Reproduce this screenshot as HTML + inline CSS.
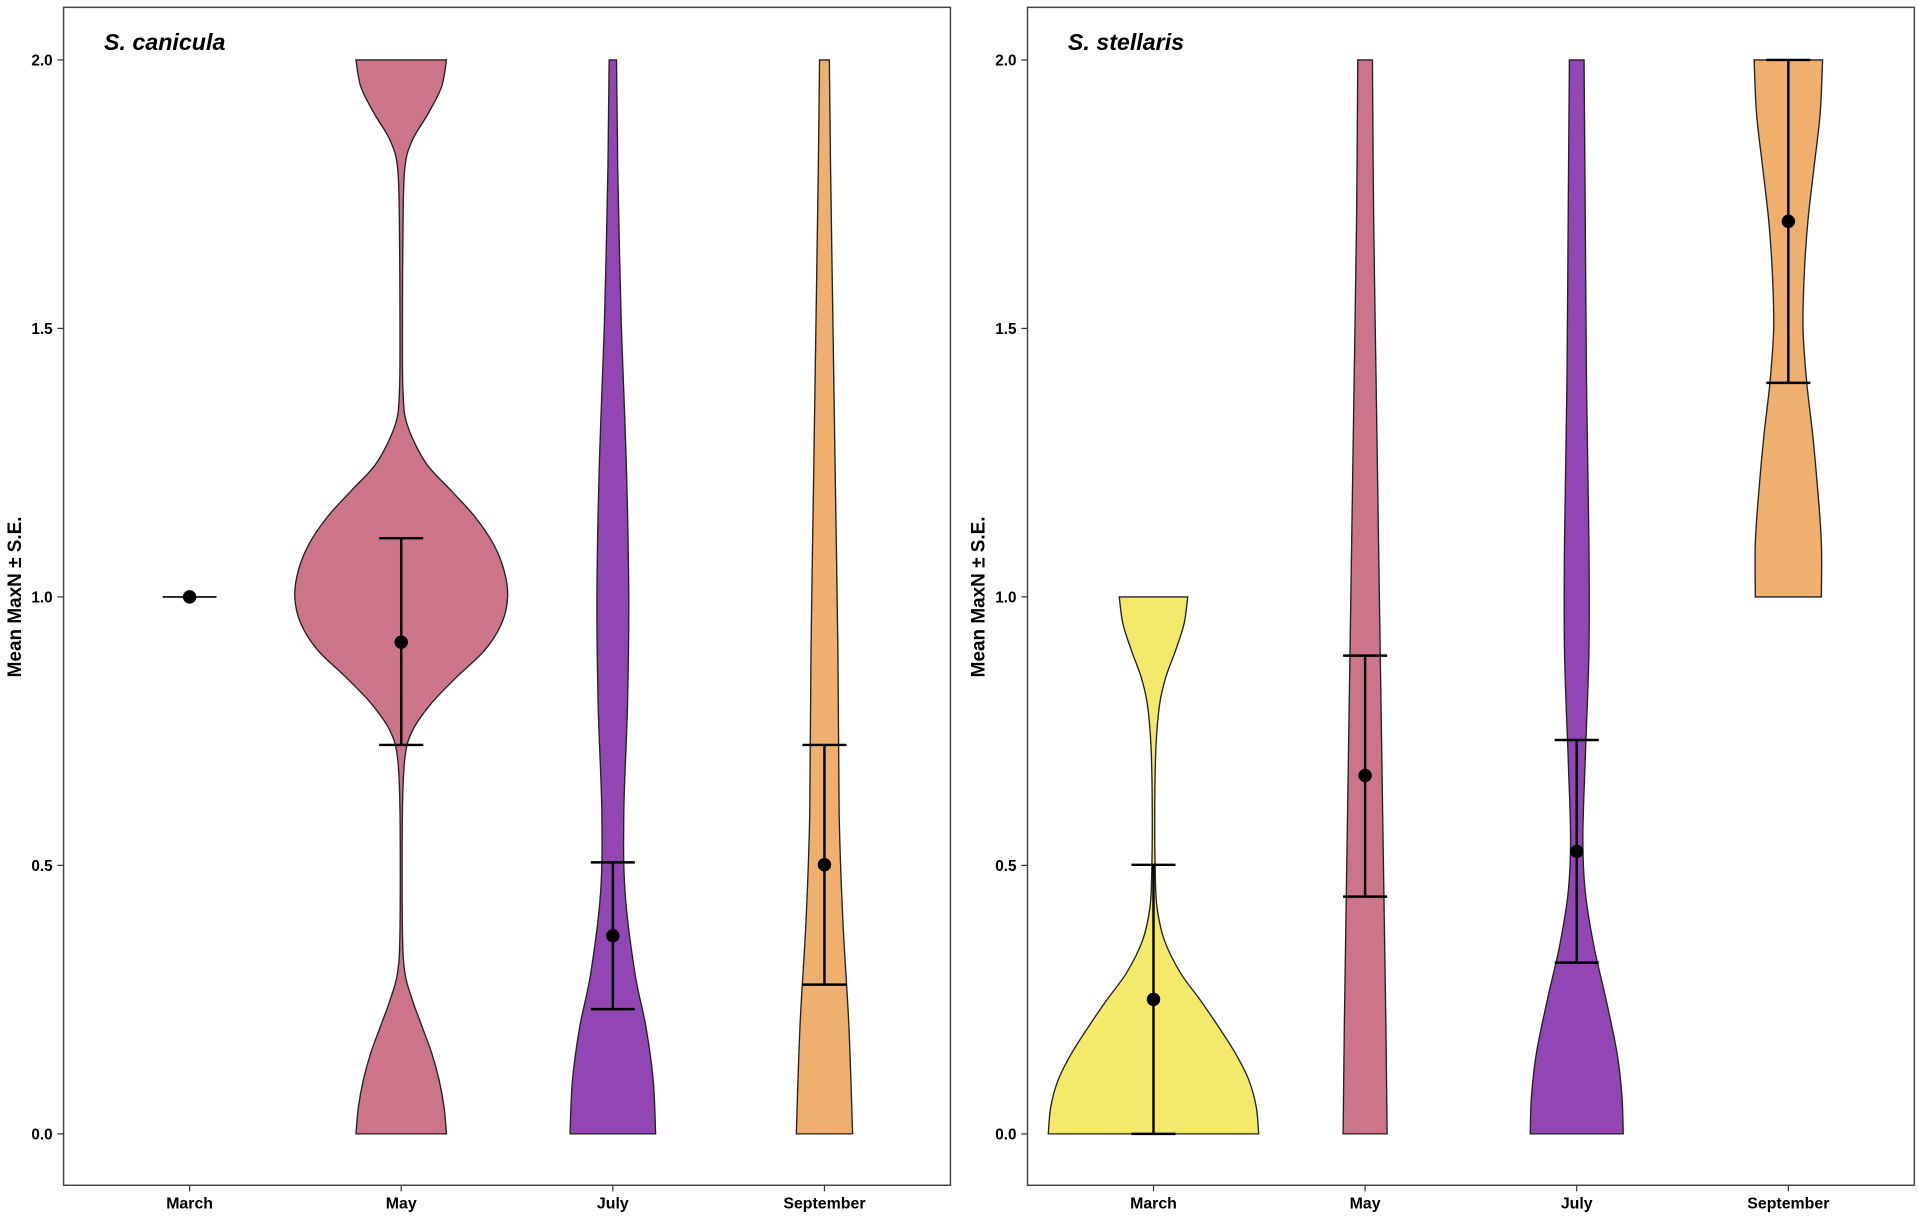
<!DOCTYPE html>
<html><head><meta charset="utf-8"><style>
html,body{margin:0;padding:0;background:#fff;}
svg{display:block;}
text{font-family:"Liberation Sans",sans-serif;font-weight:bold;fill:#000;}
</style></head><body>
<svg id="s" width="1918" height="1220" viewBox="0 0 1568 997.4" preserveAspectRatio="none" xmlns="http://www.w3.org/2000/svg"></svg>
<script>
const s=document.getElementById('s');
let h='';
const Y=v=>927-v*439;
function panel(x0,x1,title,cats){
  h+=`<rect x="${x0}" y="6" width="${x1-x0}" height="963" fill="#fff" stroke="#444" stroke-width="1.2"/>`;
  for(const v of [0,0.5,1,1.5,2]){
    h+=`<line x1="${x0-5}" x2="${x0}" y1="${Y(v)}" y2="${Y(v)}" stroke="#333"/>`;
    h+=`<text x="${x0-9}" y="${Y(v)+4.5}" font-size="12.5" text-anchor="end">${v.toFixed(1)}</text>`;
  }
  const names=['March','May','July','September'];
  cats.forEach((c,i)=>{
    h+=`<line x1="${c}" x2="${c}" y1="969" y2="974" stroke="#333"/>`;
    h+=`<text x="${c}" y="988" font-size="13" text-anchor="middle">${names[i]}</text>`;
  });
  h+=`<text x="${x0+33}" y="41" font-size="19" font-style="italic">${title}</text>`;
  h+=`<text transform="translate(${x0-35},488) rotate(-90)" font-size="15.5" text-anchor="middle">Mean MaxN ± S.E.</text>`;
}
function cr(pts){
  let d=`M${pts[0][0]},${pts[0][1]}`;
  for(let i=0;i<pts.length-1;i++){
    const p0=pts[Math.max(0,i-1)],p1=pts[i],p2=pts[i+1],p3=pts[Math.min(pts.length-1,i+2)];
    d+=`C${p1[0]+(p2[0]-p0[0])/6},${p1[1]+(p2[1]-p0[1])/6} ${p2[0]-(p3[0]-p1[0])/6},${p2[1]-(p3[1]-p1[1])/6} ${p2[0]},${p2[1]}`;
  }
  return d;
}
function violin(cx,prof,col){
  const R=prof.map(p=>[cx+p[1],Y(p[0])]);
  const L=prof.slice().reverse().map(p=>[cx-p[1],Y(p[0])]);
  let d=cr(R)+'L'+L[0][0]+','+L[0][1]+cr(L).replace(/^M[^C]*/,'')+'Z';
  h+=`<path d="${d}" fill="${col}" stroke="#222" stroke-width="1.1"/>`;
}
function eb(cx,top,bot,pt,hw=18){
  h+=`<line x1="${cx}" x2="${cx}" y1="${top}" y2="${bot}" stroke="#000" stroke-width="2"/>`;
  h+=`<line x1="${cx-hw}" x2="${cx+hw}" y1="${top}" y2="${top}" stroke="#000" stroke-width="2"/>`;
  h+=`<line x1="${cx-hw}" x2="${cx+hw}" y1="${bot}" y2="${bot}" stroke="#000" stroke-width="2"/>`;
  h+=`<circle cx="${cx}" cy="${pt}" r="5.5" fill="#000"/>`;
}
const P='#CC7489',U='#9146B4',O='#EFB06F',K='#F3E96B';
panel(52,777,'S. canicula',[155,328,501,674]);
panel(840,1565,'S. stellaris',[943,1116,1289,1462]);
h+=`<line x1="133" x2="177" y1="488" y2="488" stroke="#222" stroke-width="1.5"/>`;
h+=`<circle cx="155" cy="488" r="5.5" fill="#000"/>`;
violin(328,[[2,37],[1.95,33],[1.9,22],[1.85,9],[1.8,3],[1.7,1.5],[1.5,1],[1.38,1.5],[1.32,5],[1.25,20],[1.2,40],[1.15,60],[1.1,75],[1.05,84],[1,87],[0.95,82],[0.9,68],[0.85,45],[0.8,24],[0.75,9],[0.7,3],[0.6,1],[0.38,1],[0.3,3],[0.25,9],[0.2,17],[0.15,25],[0.1,31],[0.05,35],[0,37]],P);
eb(328,440,609,525);
violin(501,[[2,3],[1.8,4],[1.5,7],[1.25,11],[1,13],[0.8,12],[0.6,9],[0.45,10],[0.3,18],[0.2,27],[0.1,33],[0,35]],U);
eb(501,705,825,765);
violin(674,[[2,4],[1.8,5],[1.5,7],[1.2,9],[0.9,11],[0.6,12],[0.4,15],[0.2,20],[0,23]],O);
eb(674,609,805,707);
violin(943,[[1,28],[0.95,25],[0.9,18],[0.85,10],[0.8,5],[0.72,2],[0.6,1],[0.48,1.5],[0.42,3],[0.36,9],[0.3,22],[0.25,38],[0.2,53],[0.15,67],[0.1,78],[0.05,84],[0,86]],K);
eb(943,707,927,817);
violin(1116,[[2,6],[1.7,7],[1.4,9],[1.1,11],[0.8,13],[0.5,15],[0.2,17],[0,18]],P);
eb(1116,536,733,634);
violin(1289,[[2,6],[1.7,7],[1.4,8],[1.1,10],[0.9,10],[0.7,7],[0.55,5],[0.45,7],[0.35,14],[0.25,24],[0.15,33],[0.07,37],[0,38]],U);
eb(1289,605,787,696);
violin(1462,[[2,28],[1.9,26],[1.8,21],[1.7,16],[1.6,13],[1.5,12],[1.4,15],[1.3,20],[1.2,24],[1.1,27],[1,27]],O);
eb(1462,49,313,181);
s.innerHTML=h;
</script>
</body></html>
